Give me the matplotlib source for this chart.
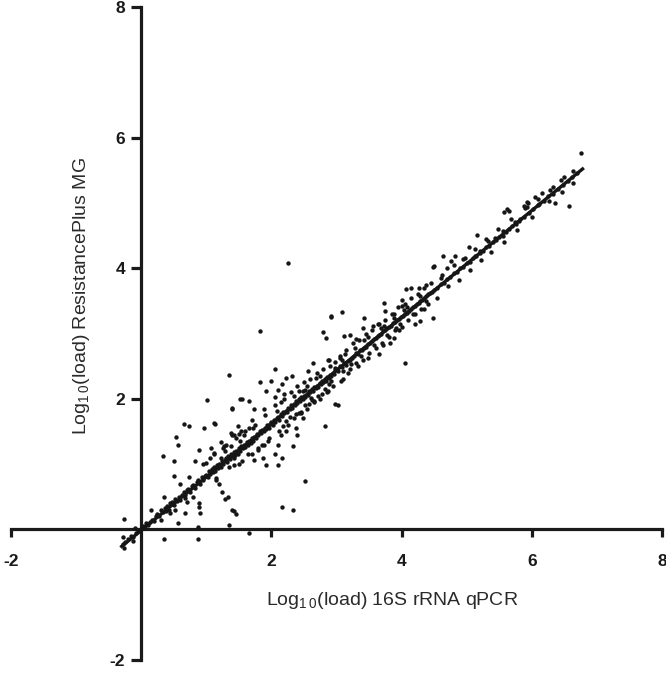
import numpy as np
import matplotlib
matplotlib.use("Agg")
import matplotlib.pyplot as plt

plt.rcParams['font.family'] = ['Liberation Sans', 'DejaVu Sans']

# points (x = 16S rRNA qPCR, y = ResistancePlus MG), log10 load
band_low = [(-0.28, -0.22), (-0.25, -0.2), (-0.2, -0.15), (-0.15, -0.1), (-0.12, -0.12), (-0.08, -0.05),
            (-0.05, -0.02), (0.0, 0.0), (0.03, 0.05), (0.05, 0.02), (0.08, 0.1), (0.1, 0.06), (0.14, 0.12),
            (0.17, 0.15), (0.2, 0.13), (0.22, 0.2), (0.25, 0.24), (0.28, 0.2), (0.3, 0.3), (0.33, 0.27),
            (0.36, 0.33), (0.38, 0.28), (0.4, 0.36), (0.43, 0.3), (0.45, 0.4), (0.48, 0.42), (0.5, 0.37),
            (0.52, 0.47), (0.55, 0.44), (0.58, 0.5), (0.6, 0.45), (0.62, 0.52), (0.65, 0.58), (0.68, 0.53),
            (0.7, 0.6), (0.72, 0.62), (0.75, 0.57), (0.78, 0.66), (0.8, 0.68), (0.83, 0.63), (0.85, 0.72),
            (0.88, 0.75), (0.9, 0.7), (0.93, 0.8), (0.95, 0.76), (0.98, 0.82), (0.15, 0.3), (0.35, 0.5),
            (0.45, 0.25), (0.6, 0.7), (0.7, 0.42), (0.8, 0.5), (0.95, 1.0), (0.3, 0.15)]

band_mid = [(1.0, 0.84), (1.02, 0.8), (1.04, 0.9), (1.06, 0.85), (1.08, 0.92), (1.1, 0.88), (1.12, 0.95),
            (1.14, 0.9), (1.16, 0.98), (1.18, 0.94), (1.2, 1.0), (1.22, 0.96), (1.24, 1.04), (1.26, 1.0),
            (1.28, 1.06), (1.3, 1.1), (1.32, 1.03), (1.34, 1.12), (1.36, 1.08), (1.38, 1.15), (1.4, 1.12),
            (1.42, 1.18), (1.44, 1.14), (1.46, 1.2), (1.48, 1.16), (1.5, 1.24), (1.52, 1.2), (1.54, 1.28),
            (1.56, 1.24), (1.58, 1.3), (1.6, 1.26), (1.62, 1.34), (1.64, 1.3), (1.66, 1.36), (1.68, 1.33),
            (1.7, 1.4), (1.72, 1.36), (1.74, 1.42), (1.76, 1.4), (1.78, 1.46), (1.8, 1.44), (1.82, 1.5),
            (1.84, 1.47), (1.86, 1.52), (1.88, 1.5), (1.9, 1.56), (1.92, 1.53), (1.94, 1.6), (1.96, 1.56),
            (1.98, 1.62), (1.05, 1.1), (1.15, 0.75), (1.25, 1.25), (1.35, 0.95), (1.45, 1.4), (1.55, 1.05),
            (1.6, 1.5), (1.7, 1.15), (1.75, 1.6), (1.85, 1.3), (1.9, 1.75), (1.95, 1.35), (1.3, 1.3),
            (1.5, 1.0), (1.65, 1.55), (1.8, 1.25), (1.12, 1.15), (1.42, 0.98), (1.58, 1.45), (1.72, 1.55),
            (2.0, 1.64), (2.02, 1.6), (2.04, 1.68), (2.06, 1.65), (2.08, 1.7), (2.1, 1.72), (2.12, 1.68),
            (2.14, 1.76), (2.16, 1.74), (2.18, 1.8), (2.2, 1.78), (2.22, 1.82), (2.24, 1.8), (2.26, 1.86),
            (2.28, 1.84), (2.3, 1.9), (2.32, 1.86), (2.34, 1.92), (2.36, 1.9), (2.38, 1.96), (2.4, 1.94),
            (2.42, 2.0), (2.44, 1.97), (2.46, 2.02), (2.48, 2.0), (2.5, 2.05), (2.52, 2.02), (2.54, 2.08),
            (2.56, 2.06), (2.58, 2.12), (2.6, 2.1), (2.62, 2.15), (2.64, 2.12), (2.66, 2.18), (2.68, 2.16),
            (2.7, 2.2), (2.72, 2.18), (2.74, 2.24), (2.76, 2.22), (2.78, 2.28), (2.8, 2.26), (2.82, 2.3),
            (2.84, 2.28), (2.86, 2.34), (2.88, 2.32), (2.9, 2.36), (2.92, 2.35), (2.94, 2.4), (2.96, 2.38),
            (2.98, 2.44), (2.05, 1.9), (2.12, 1.5), (2.2, 2.0), (2.25, 1.6), (2.3, 2.1), (2.35, 1.7),
            (2.4, 2.2), (2.45, 1.8), (2.5, 2.25), (2.55, 1.85), (2.6, 2.3), (2.65, 1.95), (2.7, 2.4),
            (2.75, 2.0), (2.8, 2.45), (2.85, 2.1), (2.9, 2.5), (2.95, 2.2), (2.15, 1.95), (2.35, 2.05),
            (2.55, 2.2), (2.75, 2.35), (2.18, 1.58), (2.42, 1.78), (2.62, 1.98), (2.82, 2.15),
            (2.08, 1.82), (2.28, 1.72), (2.48, 2.12), (2.58, 1.92), (2.68, 2.32), (2.78, 2.08),
            (2.88, 2.22), (2.98, 2.56), (2.22, 1.66), (2.52, 1.9), (2.72, 2.05), (2.92, 2.28)]

band_high = [(3.0, 2.45), (3.03, 2.42), (3.06, 2.5), (3.09, 2.48), (3.12, 2.55), (3.15, 2.52), (3.18, 2.58),
             (3.21, 2.6), (3.24, 2.62), (3.27, 2.65), (3.3, 2.7), (3.33, 2.68), (3.36, 2.74), (3.39, 2.75),
             (3.42, 2.78), (3.45, 2.8), (3.48, 2.84), (3.51, 2.85), (3.54, 2.88), (3.57, 2.92), (3.6, 2.93),
             (3.63, 2.96), (3.66, 2.98), (3.69, 3.0), (3.72, 3.04), (3.75, 3.05), (3.78, 3.08), (3.81, 3.1),
             (3.84, 3.12), (3.87, 3.16), (3.9, 3.18), (3.93, 3.2), (3.96, 3.22), (3.99, 3.25), (4.02, 3.27),
             (4.05, 3.3), (4.08, 3.32), (4.11, 3.35), (4.14, 3.37), (4.17, 3.4), (4.2, 3.42), (4.23, 3.45),
             (4.26, 3.47), (4.29, 3.5), (4.32, 3.52), (4.35, 3.55), (4.38, 3.57), (4.41, 3.6), (4.44, 3.62),
             (4.47, 3.64), (3.05, 2.65), (3.1, 2.3), (3.15, 2.75), (3.2, 2.45), (3.25, 2.85), (3.3, 2.55),
             (3.35, 2.9), (3.4, 2.6), (3.45, 3.0), (3.5, 2.7), (3.55, 3.05), (3.6, 2.78), (3.65, 3.15),
             (3.7, 2.85), (3.75, 3.2), (3.8, 2.95), (3.85, 3.3), (3.9, 3.05), (3.95, 3.4), (4.0, 3.1),
             (4.05, 3.45), (4.1, 3.2), (4.15, 3.55), (4.2, 3.3), (4.25, 3.6), (4.3, 3.38), (4.35, 3.7),
             (4.4, 3.45), (4.45, 3.78), (3.08, 2.6), (3.18, 2.4), (3.28, 2.78), (3.38, 2.66), (3.48, 2.95),
             (3.58, 2.82), (3.68, 3.08), (3.78, 2.98), (3.88, 3.24), (3.98, 3.14), (4.08, 3.4), (4.18, 3.3),
             (4.28, 3.58), (4.38, 3.5), (3.13, 2.68), (3.43, 2.9), (3.73, 3.12), (4.03, 3.36),
             (4.5, 3.67), (4.55, 3.7), (4.6, 3.76), (4.65, 3.78), (4.7, 3.84), (4.75, 3.86), (4.8, 3.92),
             (4.85, 3.94), (4.9, 4.0), (4.95, 4.02), (5.0, 4.08), (5.05, 4.1), (5.1, 4.16), (5.15, 4.18),
             (5.2, 4.24), (5.25, 4.27), (5.3, 4.32), (5.35, 4.34), (5.4, 4.4), (5.45, 4.43), (5.5, 4.48),
             (5.55, 4.5), (5.6, 4.56), (5.65, 4.6), (5.7, 4.64), (5.75, 4.68), (5.8, 4.72), (5.88, 4.78),
             (5.95, 4.85), (6.02, 4.9), (6.1, 4.97), (6.18, 5.03), (6.25, 5.1), (6.32, 5.14), (6.4, 5.21),
             (6.48, 5.28), (6.55, 5.33), (6.62, 5.39), (6.7, 5.46), (4.55, 3.55), (4.62, 3.9), (4.72, 3.72),
             (4.8, 4.05), (4.88, 3.82), (4.97, 4.15), (5.05, 3.98), (5.12, 4.3), (5.22, 4.12), (5.3, 4.45),
             (5.38, 4.25), (5.48, 4.6), (5.58, 4.4), (5.68, 4.75), (5.78, 4.58), (5.9, 4.92), (6.0, 4.78),
             (6.15, 5.15), (6.35, 5.0), (6.5, 5.4)]

outliers = [(-0.27, 0.16), (-0.28, -0.12), (-0.27, -0.29), (-0.1, 0.02), (-0.13, -0.18), (0.35, -0.15),
            (0.88, -0.15), (0.88, 0.03), (0.89, 0.41), (0.89, 0.34), (0.9, 0.25), (0.56, 0.1), (0.68, 0.25),
            (0.33, 1.12), (0.5, 1.05), (0.53, 1.41), (0.56, 1.3), (0.66, 1.62), (0.74, 1.58), (0.96, 1.55),
            (1.13, 1.62), (1.01, 1.98), (1.4, 1.86), (1.55, 2.0), (0.5, 0.82), (0.74, 0.8), (0.89, 1.21),
            (0.82, 1.04), (1.07, 1.25), (1.0, 1.02), (1.12, 1.17), (1.23, 1.34), (1.27, 1.27), (1.38, 1.48),
            (1.4, 1.44), (1.5, 1.46), (1.53, 1.51), (1.15, 0.79), (1.2, 0.69), (1.24, 0.58), (1.28, 0.46),
            (1.33, 0.49), (1.4, 0.3), (1.43, 0.28), (1.35, 0.06), (0.52, 0.29), (0.67, 0.48), (1.46, 0.23),
            (1.65, -0.06), (2.16, 0.35), (2.33, 0.3), (2.52, 0.74), (2.26, 4.08),
            (1.82, 3.04), (1.35, 2.37), (2.91, 3.27), (3.09, 3.33), (2.79, 3.02), (2.84, 2.93), (3.11, 2.96),
            (2.05, 2.46), (1.82, 2.26), (2.0, 2.27), (1.92, 2.12), (2.23, 2.32), (2.31, 2.35), (2.17, 2.22),
            (1.52, 1.99), (1.65, 1.96), (1.4, 1.85), (1.12, 1.63), (1.74, 1.84), (1.88, 1.84), (1.7, 1.68),
            (2.06, 2.02), (2.1, 2.14), (2.2, 2.07), (2.82, 1.58), (2.97, 1.92), (3.03, 1.9), (2.64, 2.55),
            (2.56, 2.42), (2.43, 2.12), (2.51, 2.14), (2.61, 2.01), (2.66, 1.96), (2.38, 1.76), (2.46, 1.78),
            (2.48, 1.71), (2.38, 1.56), (2.4, 1.44), (2.33, 1.28), (2.23, 1.5), (2.15, 1.45), (2.1, 1.3),
            (2.17, 1.1), (2.05, 1.15), (1.97, 1.4), (1.89, 1.3), (1.79, 1.22), (1.87, 1.09), (1.74, 1.07),
            (1.64, 1.15), (1.51, 1.35), (1.48, 1.58), (1.43, 1.45), (1.38, 1.27), (1.28, 1.2), (1.23, 1.09),
            (1.43, 1.09), (1.92, 0.99), (2.1, 0.99), (2.79, 2.25), (2.87, 2.12), (3.07, 2.27), (3.1, 2.42),
            (2.89, 2.6), (4.5, 4.03), (2.92, 3.25), (3.43, 3.24), (3.73, 3.47), (3.74, 3.35), (3.88, 3.3),
            (3.4, 3.09), (3.56, 3.12), (3.64, 3.15), (4.05, 2.55), (4.48, 3.24), (4.35, 3.37), (4.07, 3.68),
            (4.15, 3.7), (4.27, 3.69), (4.37, 3.75), (4.01, 3.52), (4.0, 3.42), (3.21, 2.97), (3.3, 2.91),
            (3.66, 2.68), (3.48, 2.63), (3.71, 2.83), (3.82, 2.86), (3.89, 2.93), (3.91, 3.08), (3.96, 3.06),
            (4.2, 3.15), (4.28, 3.19), (3.33, 2.5), (3.23, 2.53), (3.05, 2.63), (2.87, 2.6), (2.97, 2.47),
            (5.93, 5.02), (5.62, 4.9), (5.65, 4.88), (5.58, 4.86), (5.16, 4.51), (5.04, 4.33), (4.82, 4.19),
            (4.76, 4.11), (4.63, 4.19), (4.49, 4.02), (4.69, 4.01), (4.61, 3.85), (5.33, 4.42), (5.43, 4.47),
            (5.56, 4.57), (5.74, 4.7), (5.82, 4.75), (5.92, 4.93), (5.2, 4.26), (5.12, 4.19), (4.94, 4.14),
            (6.75, 5.77), (6.63, 5.49), (6.64, 5.3), (6.45, 5.35), (6.46, 5.16), (6.57, 4.95), (6.28, 5.19),
            (6.33, 5.25), (6.27, 5.03), (6.1, 5.06), (6.05, 5.09), (5.94, 5.0), (5.88, 4.95), (6.11, 4.98)]

fit_x = [-0.3, 6.78]
fit_y = [-0.26, 5.52]

ticks = [-2, 2, 4, 6, 8]

pts = np.array(band_low + band_mid + band_high + outliers)

fig = plt.figure(figsize=(6.66, 6.74), dpi=100)
ax = fig.add_axes([11 / 666, 14 / 674, 651 / 666, 653 / 674])

ax.scatter(pts[:, 0], pts[:, 1], s=10, color='#161616', linewidths=0, zorder=3)
ax.plot(fit_x, fit_y, color='#161616', lw=2.4, zorder=4)

ax.set_xlim(-2, 8)
ax.set_ylim(-2, 8)
ax.spines['left'].set_position(('data', 0))
ax.spines['bottom'].set_position(('data', 0))
for s in ['top', 'right']:
    ax.spines[s].set_visible(False)
for s in ['left', 'bottom']:
    ax.spines[s].set_linewidth(2.3)
    ax.spines[s].set_color('#1a1a1a')

ax.set_xticks(ticks)
ax.set_yticks(ticks)
ax.set_xticklabels([str(t) for t in ticks], fontweight='bold', fontsize=12.5)
ax.set_yticklabels([str(t) for t in ticks], fontweight='bold', fontsize=12.5)
ax.tick_params(axis='x', direction='out', length=6, width=2.3, pad=12, colors='#1a1a1a')
ax.tick_params(axis='y', direction='out', length=7.5, width=2.3, pad=4, colors='#1a1a1a')

ax.text(3.85, -1.09, r'Log$_{\mathregular{1\,0}}$(load) 16S rRNA qPCR', ha='center', va='center',
        fontsize=14, color='#2a2a2a')
ax.text(-0.92, 3.57, r'Log$_{\mathregular{1\,0}}$(load) ResistancePlus MG', ha='center', va='center',
        rotation=90, fontsize=14, color='#2a2a2a')

fig.savefig('out.png', dpi=100)
